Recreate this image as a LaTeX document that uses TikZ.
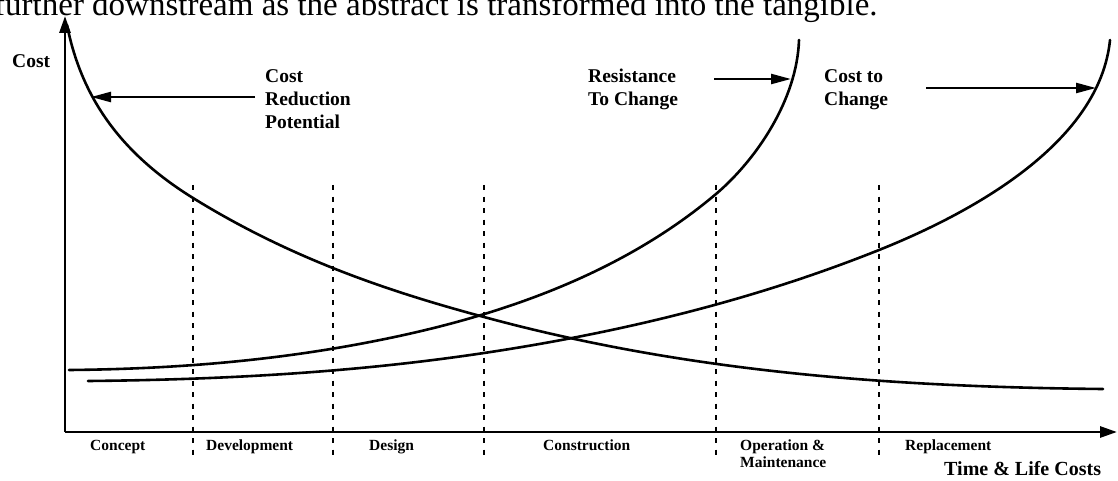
\documentclass[tikz,border=0pt]{standalone}
\usepackage{fontspec}
\setmainfont{Liberation Serif}
\usetikzlibrary{arrows.meta}
\begin{document}
\begin{tikzpicture}[x=1pt,y=-1pt,
  axis/.style={line width=2.8pt,-{Triangle[length=17pt,width=11pt]}},
  curve/.style={line width=2.6pt,line cap=round},
  phase/.style={line width=2.5pt,dash pattern=on 5pt off 6.5pt},
  pointer/.style={line width=2.3pt,-{Triangle[length=20pt,width=10pt]}},
  lbl/.style={font=\fontsize{19.5}{23}\selectfont\bfseries,inner sep=0pt,anchor=base west},
  phaselbl/.style={font=\fontsize{15.5}{18}\selectfont\bfseries,inner sep=0pt,anchor=base west},
]
\useasboundingbox (0,0) rectangle (1118,481);
\clip (0,0) rectangle (1118,481);

% running text of the page above the figure
\node[anchor=base west,inner sep=0pt,font=\fontsize{33}{36}\selectfont] (caption) at (-6,16)
  {further downstream as the abstract is transformed into the tangible.};

% axes
\coordinate (origin) at (65,432);
\coordinate (ytip) at (65,16);
\coordinate (xtip) at (1117,432);
\draw[axis] (origin) -- (ytip);
\draw[axis] (origin) -- (xtip);
\node[lbl] (costaxis) at (12,68) {Cost};
\node[anchor=base west,inner sep=0pt,font=\fontsize{20}{24}\selectfont\bfseries] (timeaxis) at (944,475) {Time \& Life Costs};

% phase boundaries
\foreach \x/\n in {193/a,333/b,484/c,716/d,879/e}{
  \coordinate (top\n) at (\x,185);
  \coordinate (bot\n) at (\x,456);
  \draw[phase] (top\n) -- (bot\n);
}

% phase names
\node[phaselbl] (concept) at (90,450) {Concept};
\node[phaselbl] (development) at (206,450) {Development};
\node[phaselbl] (design) at (369,450) {Design};
\node[phaselbl] (construction) at (543,450) {Construction};
\node[phaselbl] (operation) at (740,450) {Operation \&};
\node[phaselbl] (maintenance) at (740,467) {Maintenance};
\node[phaselbl] (replacement) at (905,450) {Replacement};

% cost reduction potential
\draw[curve] (67,25) .. controls (81,95) and (118,151.5) .. (193,198)
  .. controls (290,258) and (387,291) .. (484,317)
  .. controls (690,373) and (897,387) .. (1103,389);

% resistance to change
\draw[curve] (69,370) .. controls (173,369) and (276,361) .. (380,340)
  .. controls (510,314) and (626,270) .. (716,194)
  .. controls (756,160) and (797,100) .. (799,40);

% cost to change
\draw[curve] (88,381) .. controls (220,379.7) and (352,372.8) .. (484,353)
  .. controls (614,333.5) and (749,302) .. (879,250)
  .. controls (979,210) and (1100,140) .. (1110,40);

% labels with pointers
\node[lbl] (crp1) at (265,83) {Cost};
\node[lbl] (crp2) at (265,106) {Reduction};
\node[lbl] (crp3) at (265,129) {Potential};
\coordinate (crpfrom) at (255,97);
\coordinate (crpto) at (91,97);
\draw[pointer] (crpfrom) -- (crpto);

\node[lbl] (rtc1) at (588,83) {Resistance};
\node[lbl] (rtc2) at (588,106) {To Change};
\coordinate (rtcfrom) at (714,79);
\coordinate (rtcto) at (791,79);
\draw[pointer] (rtcfrom) -- (rtcto);

\node[lbl] (ctc1) at (824,83) {Cost to};
\node[lbl] (ctc2) at (824,106) {Change};
\coordinate (ctcfrom) at (926,88);
\coordinate (ctcto) at (1096,88);
\draw[pointer] (ctcfrom) -- (ctcto);
\end{tikzpicture}
\end{document}
